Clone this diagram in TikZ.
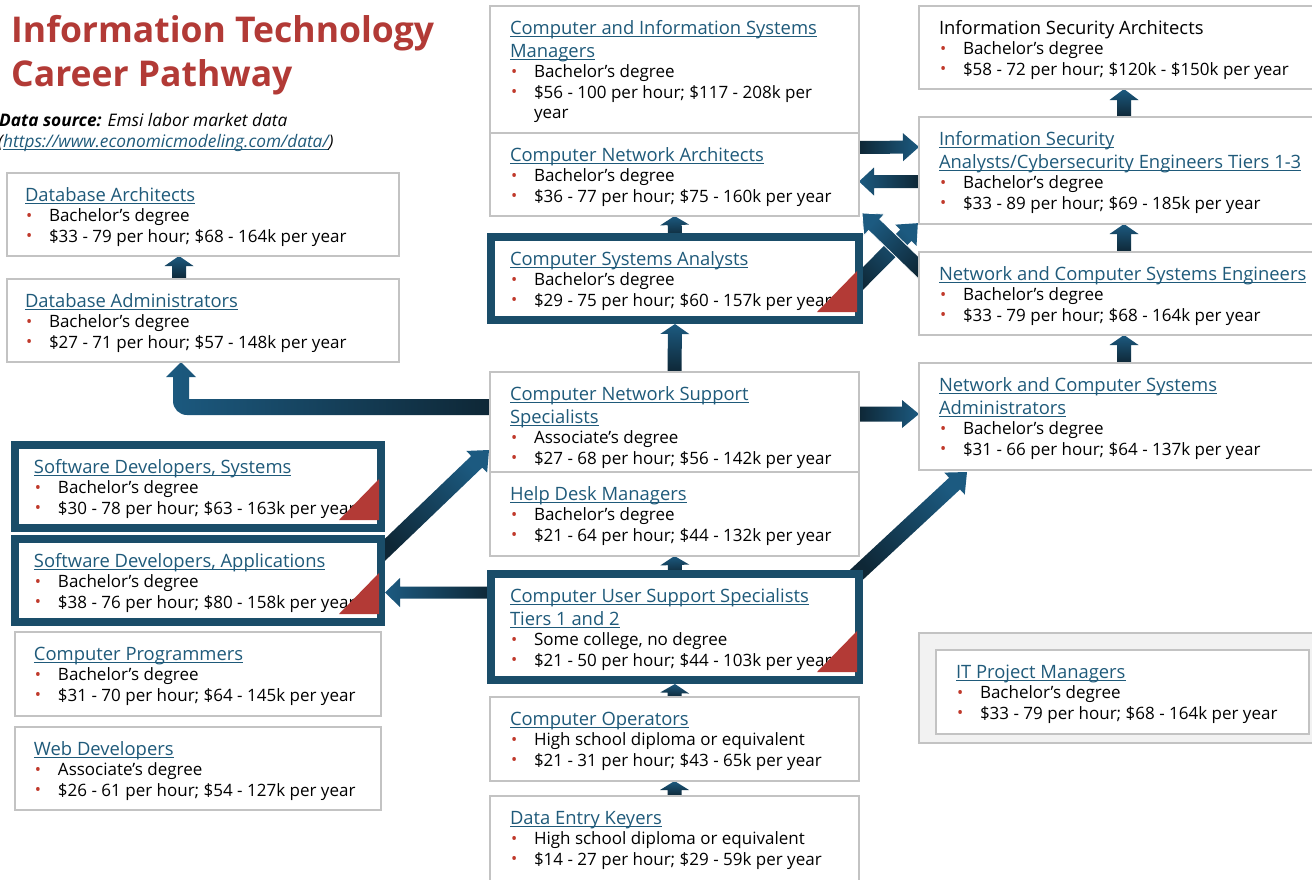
\documentclass[tikz,border=0pt]{standalone}
\usepackage{fontspec}
\setmainfont{Open Sans}
\usetikzlibrary{calc,backgrounds}

\definecolor{titlered}{HTML}{B23A36}
\definecolor{linkblue}{HTML}{1F5A7A}
\definecolor{bulred}{HTML}{C0392B}
\definecolor{boxgray}{HTML}{C3C3C3}
\definecolor{thickblue}{HTML}{1A4D69}
\definecolor{arrowdark}{HTML}{0E2736}
\definecolor{arrowblue}{HTML}{1C5A80}
\definecolor{cornerred}{HTML}{B33A36}
\definecolor{pmfill}{HTML}{F2F2F2}

\newcommand\bodyfont{\fontsize{17}{20.4}\selectfont}
\newcommand\headfont{\fontsize{35.5}{44}\selectfont\bfseries}
\newcommand\srcfont{\fontsize{17.3}{20}\selectfont}

% underlined link text with a fixed underline position
\newsavebox\lnkbox
\newcommand\lnk[1]{\sbox\lnkbox{\color{linkblue}#1}%
  \textcolor{linkblue}{\rlap{\rule[-2.6pt]{\wd\lnkbox}{0.9pt}}}\usebox\lnkbox}
\newcommand\ttl[1]{\lnk{\fontsize{18.4}{20.4}\selectfont #1}}
\newcommand\bul{\makebox[24pt][l]{\hspace{1pt}\raisebox{0.5pt}{\textcolor{bulred}{\fontsize{16.5}{16.5}\selectfont •}}}}

\tikzset{
  box/.style={draw=boxgray, line width=1.6pt, fill=white, outer sep=0pt, inner sep=0pt},
  thickbox/.style={draw=thickblue, line width=8pt, fill=white, outer sep=0pt, inner sep=0pt},
  pmbox/.style={draw=boxgray, line width=2pt, fill=pmfill, outer sep=0pt, inner sep=0pt},
  jobtxt/.style={anchor=base west, inner sep=0pt, outer sep=0pt},
  arrowshade/.style={top color=arrowblue, bottom color=arrowdark},
}

% #1 style, #2 name, #3 x, #4 y (top left), #5 width, #6 height
\newcommand\jobbox[6][box]{\node[#1, minimum width=#5pt, minimum height=#6pt, anchor=north west] (#2) at (#3,#4) {};}
% #1 left indent, #2 box name, #3 lines
\newcommand\jobtext[3][19]{\node[jobtxt] (#2-txt) at ([shift={(#1pt,-28.5pt)}]#2.north west) {\parbox[t]{440pt}{\bodyfont #3}};}
% red corner mark inside a thick box
\newcommand\corner[1]{\fill[cornerred] ([shift={(-42pt,8pt)}]#1.south east) -- ([shift={(-2pt,8pt)}]#1.south east) -- ([shift={(-2pt,49pt)}]#1.south east) -- cycle;}

% straight block arrow: [extra] from, to, shaft width, head width, head length
\newcommand\blockarrow[6][]{%
  \path let \p1=(#2), \p2=(#3) in \pgfextra{%
    \pgfmathsetmacro\baang{atan2(\y2-\y1,\x2-\x1)}%
    \pgfmathsetmacro\balen{veclen(\x2-\x1,\y2-\y1)}%
    \xdef\baang{\baang}\xdef\balen{\balen}%
    \xdef\basx{\x1}\xdef\basy{\y1}};%
  \pgfmathsetmacro\bashade{\baang-90}%
  \path[arrowshade, shading angle=\bashade, shift={(\basx,\basy)}, rotate=\baang, #1]
    (0pt,#4pt/2) -- ({\balen pt-#6pt},#4pt/2) -- ({\balen pt-#6pt},#5pt/2)
    -- (\balen pt,0pt) -- ({\balen pt-#6pt},-#5pt/2) -- ({\balen pt-#6pt},-#4pt/2)
    -- (0pt,-#4pt/2) -- cycle;}

\begin{document}
\begin{tikzpicture}[x=1pt,y=-1pt]
\begin{pgfonlayer}{background}
  \fill[white] (0,0) rectangle (1312,879);
\end{pgfonlayer}
\useasboundingbox (0,0) rectangle (1312,879);

% heading and source
\node[anchor=base west, inner sep=0pt, text=titlered, font=\headfont] (head1) at (11,42) {Information Technology};
\node[anchor=base west, inner sep=0pt, text=titlered, font=\headfont] (head2) at (11,86) {Career Pathway};
\node[anchor=base west, inner sep=0pt, font=\srcfont] (src1) at (-1,126) {\textbf{\textit{Data source:}} \textit{Emsi labor market data}};
\node[anchor=base west, inner sep=0pt, font=\srcfont] (src2) at (-2,147) {\textit{(\lnk{https://www.economicmodeling.com/data/})}};

% left column
\jobbox{dbarch}{7}{173}{392}{83}
\jobbox{dbadm}{7}{279}{392}{83}
\jobbox[thickbox]{sdsys}{15}{445}{366}{83}
\jobbox[thickbox]{sdapp}{15}{539}{366}{83}
\jobbox{prog}{15}{632}{366}{84}
\jobbox{web}{15}{727}{366}{83}

% middle column
\jobbox{cism}{490}{6}{369}{127}
\jobbox{netarch}{490}{133}{369}{83}
\jobbox[thickbox]{sysan}{491}{237}{368}{83}
\jobbox{netsup}{490}{372}{369}{100}
\jobbox{helpdesk}{490}{472}{369}{84}
\jobbox[thickbox]{usersup}{491}{574}{368}{106}
\jobbox{ops}{490}{697}{369}{84}
\jobbox{dek}{490}{796}{369}{100}

% right column
\jobbox{isarch}{919}{6}{420}{83}
\jobbox{isan}{919}{117}{420}{107}
\jobbox{neteng}{919}{252}{420}{83}
\jobbox{netadm}{919}{363}{420}{107}
\jobbox[pmbox]{pmframe}{919}{633}{420}{110}
\jobbox{itpm}{936}{650}{373}{84}

% texts
\jobtext[18]{dbarch}{\ttl{Database Architects}\\ \bul Bachelor’s degree\\ \bul \$33 - 79 per hour; \$68 - 164k per year}
\jobtext[18]{dbadm}{\ttl{Database Administrators}\\ \bul Bachelor’s degree\\ \bul \$27 - 71 per hour; \$57 - 148k per year}
\jobtext{sdsys}{\ttl{Software Developers, Systems}\\ \bul Bachelor’s degree\\ \bul \$30 - 78 per hour; \$63 - 163k per year}
\jobtext{sdapp}{\ttl{Software Developers, Applications}\\ \bul Bachelor’s degree\\ \bul \$38 - 76 per hour; \$80 - 158k per year}
\jobtext{prog}{\ttl{Computer Programmers}\\ \bul Bachelor’s degree\\ \bul \$31 - 70 per hour; \$64 - 145k per year}
\jobtext{web}{\ttl{Web Developers}\\ \bul Associate’s degree\\ \bul \$26 - 61 per hour; \$54 - 127k per year}

\jobtext[20]{cism}{\ttl{Computer and Information Systems}\\[2.5pt]\ttl{Managers}\\ \bul Bachelor’s degree\\ \bul \$56 - 100 per hour; \$117 - 208k per\\ \hspace*{24pt}year}
\jobtext[20]{netarch}{\ttl{Computer Network Architects}\\ \bul Bachelor’s degree\\ \bul \$36 - 77 per hour; \$75 - 160k per year}
\jobtext{sysan}{\ttl{Computer Systems Analysts}\\ \bul Bachelor’s degree\\ \bul \$29 - 75 per hour; \$60 - 157k per year}
\jobtext[20]{netsup}{\ttl{Computer Network Support}\\[2.5pt]\ttl{Specialists}\\ \bul Associate’s degree\\ \bul \$27 - 68 per hour; \$56 - 142k per year}
\jobtext[20]{helpdesk}{\ttl{Help Desk Managers}\\ \bul Bachelor’s degree\\ \bul \$21 - 64 per hour; \$44 - 132k per year}
\jobtext{usersup}{\ttl{Computer User Support Specialists}\\[2.5pt]\ttl{Tiers 1 and 2}\\ \bul Some college, no degree\\ \bul \$21 - 50 per hour; \$44 - 103k per year}
\jobtext[20]{ops}{\ttl{Computer Operators}\\ \bul High school diploma or equivalent\\ \bul \$21 - 31 per hour; \$43 - 65k per year}
\jobtext[20]{dek}{\ttl{Data Entry Keyers}\\ \bul High school diploma or equivalent\\ \bul \$14 - 27 per hour; \$29 - 59k per year}

\jobtext[20]{isarch}{{\fontsize{18.4}{20.4}\selectfont Information Security Architects}\\ \bul Bachelor’s degree\\ \bul \$58 - 72 per hour; \$120k - \$150k per year}
\jobtext[20]{isan}{\ttl{Information Security}\\[2.5pt]\ttl{Analysts/Cybersecurity Engineers Tiers 1-3}\\ \bul Bachelor’s degree\\ \bul \$33 - 89 per hour; \$69 - 185k per year}
\jobtext[20]{neteng}{\ttl{Network and Computer Systems Engineers}\\ \bul Bachelor’s degree\\ \bul \$33 - 79 per hour; \$68 - 164k per year}
\jobtext[20]{netadm}{\ttl{Network and Computer Systems}\\[2.5pt]\ttl{Administrators}\\ \bul Bachelor’s degree\\ \bul \$31 - 66 per hour; \$64 - 137k per year}
\jobtext[20]{itpm}{\ttl{IT Project Managers}\\ \bul Bachelor’s degree\\ \bul \$33 - 79 per hour; \$68 - 164k per year}

% corner marks on the highlighted boxes
\corner{sdsys}
\corner{sdapp}
\corner{sysan}
\corner{usersup}

% connectors
\begin{pgfonlayer}{background}
  % short vertical steps
  \blockarrow{[xshift=-24pt]dbadm.north}{[xshift=-24pt]dbarch.south}{14}{29}{10}
  \blockarrow{netsup.north}{[yshift=-4pt]sysan.south}{14}{29}{10}
  \blockarrow{sysan.north}{netarch.south}{14}{29}{9}
  \blockarrow{usersup.north}{helpdesk.south}{14}{29}{9}
  \blockarrow{ops.north}{[yshift=-4pt]usersup.south}{14}{29}{9}
  \blockarrow{dek.north}{ops.south}{14}{29}{9}
  \blockarrow{[xshift=-5pt]isan.north}{[xshift=-5pt]isarch.south}{14}{29}{11}
  \blockarrow{[xshift=-5pt]neteng.north}{[xshift=-5pt]isan.south}{14}{29}{10}
  \blockarrow{[xshift=-5pt]netadm.north}{[xshift=-5pt]neteng.south}{14}{29}{10}
  % horizontal moves
  \blockarrow{[yshift=27pt]netarch.east}{[yshift=23.5pt]isan.west}{13}{28}{16}
  \blockarrow{[yshift=-11pt]isan.west}{[yshift=-7pt]netarch.east}{13}{28}{15}
  \blockarrow{[yshift=8pt]netsup.east}{[yshift=2.5pt]netadm.west}{15}{28}{17}
  \blockarrow{[yshift=34.5pt]usersup.west}{[xshift=4pt,yshift=-12pt]sdapp.east}{12}{29}{15}
  % diagonal moves
  \blockarrow{[xshift=-2pt,yshift=25pt]sdapp.east}{[xshift=-1pt,yshift=22pt]netsup.south west}{16}{30}{17}
  \blockarrow{[xshift=-6pt,yshift=-4pt]usersup.north east}{[xshift=48pt,yshift=-2pt]netadm.south west}{16}{30}{17}
  \blockarrow{[xshift=-6pt,yshift=-10pt]sysan.east}{[xshift=-1pt,yshift=1pt]isan.south west}{16}{30}{17}
  \blockarrow[draw=white, line width=0.8pt]{[xshift=6pt,yshift=-22pt]neteng.north west}{[xshift=3pt,yshift=3pt]netarch.south east}{16}{30}{17}
  % bent arrow from the support specialists to the database administrators
  \path[left color=arrowblue, right color=arrowdark]
    let \p1=([yshift=15pt]netsup.west), \p2=([xshift=-22pt]dbadm.south) in
    (\x1,\y1+8pt) -- (\x2+8pt,\y1+8pt) -- (\x2+8pt,\y2-15pt) -- (\x2+15pt,\y2-15pt)
    -- (\p2) -- (\x2-15pt,\y2-15pt) -- (\x2-8pt,\y2-15pt) -- (\x2-8pt,\y1+6pt)
    arc[start angle=180, end angle=270, radius=14pt] -- (\x1,\y1-8pt) -- cycle;
\end{pgfonlayer}
\end{tikzpicture}
\end{document}
